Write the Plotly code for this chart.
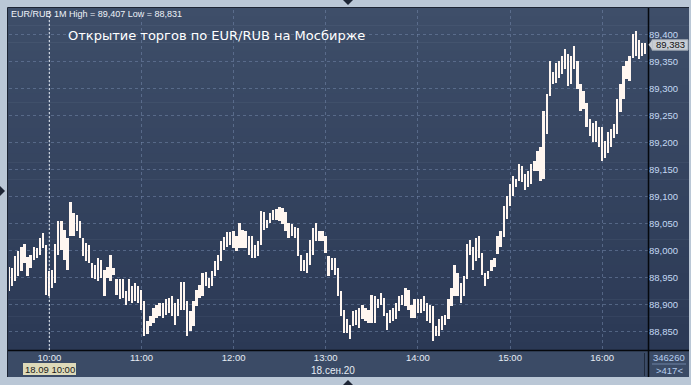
import plotly.graph_objects as go
import pandas as pd

# ---------------- data (2-minute bars, EUR/RUB, 18.09.2020) ----------------
start_time = "2020-09-18 09:34"
bar_minutes = 2

highs = [
    88.969, 88.967, 88.990, 88.998, 89.007, 89.012, 88.987, 88.992, 89.007, 89.004,
    89.023, 89.032, 89.010, 88.961, 88.964, 89.012, 89.054, 89.054, 89.038, 89.023,
    89.090, 89.069, 89.066, 89.054, 89.023, 89.014, 89.010, 88.977, 88.973, 88.986,
    88.983, 88.964, 88.970, 88.992, 88.967, 88.946, 88.946, 88.946, 88.924, 88.946,
    88.933, 88.940, 88.933, 88.927, 88.906, 88.869, 88.878, 88.893, 88.899, 88.902,
    88.902, 88.909, 88.912, 88.915, 88.902, 88.909, 88.941, 88.941, 88.906, 88.887,
    88.906, 88.927, 88.936, 88.958, 88.960, 88.949, 88.962, 88.980, 88.992, 89.017,
    89.024, 89.034, 89.034, 89.035, 89.026, 89.051, 89.038, 89.035, 89.026, 89.026,
    89.010, 89.017, 89.073, 89.072, 89.057, 89.069, 89.075, 89.077, 89.080, 89.078,
    89.072, 89.051, 89.048, 89.044, 89.041, 88.992, 88.983, 88.995, 89.020, 89.041,
    89.051, 89.035, 89.035, 89.026, 88.989, 88.986, 88.986, 88.967, 88.924, 88.890,
    88.872, 88.861, 88.887, 88.890, 88.893, 88.899, 88.893, 88.890, 88.918, 88.915,
    88.909, 88.920, 88.912, 88.884, 88.890, 88.893, 88.902, 88.915, 88.918, 88.930,
    88.927, 88.899, 88.909, 88.909, 88.909, 88.915, 88.902, 88.899, 88.896, 88.859,
    88.872, 88.878, 88.881, 88.909, 88.930, 88.973, 88.958, 88.940, 88.952, 89.011,
    89.020, 89.007, 89.023, 89.026, 88.995, 88.958, 88.961, 88.983, 88.986, 89.027,
    89.036, 89.083, 89.101, 89.123, 89.138, 89.132, 89.161, 89.157, 89.141, 89.148,
    89.160, 89.166, 89.185, 89.191, 89.259, 89.290, 89.351, 89.330, 89.348, 89.351,
    89.360, 89.373, 89.364, 89.360, 89.379, 89.351, 89.308, 89.296, 89.274, 89.243,
    89.237, 89.240, 89.228, 89.228, 89.203, 89.219, 89.225, 89.234, 89.280, 89.308,
    89.342, 89.351, 89.360, 89.401, 89.407, 89.391, 89.385, 89.385,
]
lows = [
    88.925, 88.933, 88.943, 88.952, 88.961, 88.977, 88.952, 88.967, 88.983, 88.986,
    88.992, 89.004, 88.918, 88.915, 88.930, 88.940, 88.992, 89.001, 88.983, 88.964,
    89.026, 89.026, 89.035, 89.023, 88.989, 88.980, 88.977, 88.949, 88.946, 88.943,
    88.949, 88.915, 88.949, 88.943, 88.955, 88.918, 88.909, 88.912, 88.899, 88.906,
    88.902, 88.906, 88.902, 88.890, 88.841, 88.844, 88.859, 88.865, 88.875, 88.878,
    88.875, 88.881, 88.884, 88.878, 88.862, 88.878, 88.890, 88.890, 88.841, 88.850,
    88.859, 88.896, 88.912, 88.915, 88.933, 88.930, 88.933, 88.952, 88.964, 88.980,
    89.001, 89.007, 89.010, 89.004, 88.998, 89.004, 89.004, 89.004, 88.992, 88.986,
    88.985, 88.989, 89.010, 89.038, 89.041, 89.051, 89.057, 89.057, 89.054, 89.048,
    89.035, 89.023, 89.026, 89.023, 88.989, 88.961, 88.961, 88.958, 88.973, 88.992,
    89.017, 89.017, 89.017, 88.995, 88.952, 88.964, 88.955, 88.915, 88.878, 88.847,
    88.847, 88.835, 88.859, 88.862, 88.856, 88.872, 88.869, 88.865, 88.865, 88.865,
    88.893, 88.899, 88.878, 88.853, 88.865, 88.869, 88.872, 88.887, 88.899, 88.896,
    88.890, 88.875, 88.875, 88.884, 88.884, 88.887, 88.869, 88.865, 88.831, 88.841,
    88.841, 88.853, 88.862, 88.872, 88.896, 88.915, 88.915, 88.902, 88.915, 88.946,
    88.992, 88.964, 88.980, 88.986, 88.955, 88.933, 88.946, 88.961, 88.970, 88.993,
    89.006, 89.024, 89.058, 89.083, 89.101, 89.117, 89.129, 89.126, 89.111, 89.117,
    89.123, 89.148, 89.148, 89.129, 89.132, 89.215, 89.286, 89.308, 89.311, 89.320,
    89.327, 89.336, 89.305, 89.308, 89.336, 89.299, 89.259, 89.262, 89.228, 89.212,
    89.200, 89.200, 89.191, 89.165, 89.172, 89.181, 89.191, 89.209, 89.215, 89.256,
    89.280, 89.317, 89.314, 89.357, 89.360, 89.354, 89.360, 89.364,
]

hour_ticks = ["10:00", "11:00", "12:00", "13:00", "14:00", "15:00", "16:00"]
price_ticks = [88.85, 88.90, 88.95, 89.00, 89.05, 89.10, 89.15, 89.20, 89.25, 89.30, 89.35, 89.40]
last_price = 89.383
title_text = "Открытие торгов по EUR/RUB на Мосбирже"
info_text = "EUR/RUB 1M High = 89,407 Low = 88,831"
volume_text = "346260"
count_text = ">417<"
cursor_text = "18.09 10:00"
date_text = "18.сен.20"

# ---------------- derived ----------------
times = pd.date_range(start_time, periods=len(highs), freq=f"{bar_minutes}min")
spans = [h - l for h, l in zip(highs, lows)]
day = "2020-09-18 "
tickvals = [day + t for t in hour_ticks]
ticktext_y = [f"{v:.3f}".replace(".", ",") for v in price_ticks]

W, H = 691, 385
ML, MR, MT, MB = 9, 43, 10, 35
PW, PH = W - ML - MR, H - MT - MB


def px(x):
    return (x - ML) / PW


def py(y):
    return (H - MB - y) / PH


fig = go.Figure()
fig.add_trace(go.Bar(
    x=times, y=spans, base=lows,
    width=70000,
    marker=dict(color="#fff6f0", line=dict(width=0)),
    hoverinfo="skip",
))

shapes = []
# background gradient (plot + right axis area)
top_c = (62, 78, 105)
bot_c = (43, 57, 85)
y0, y1 = 8.0, 350.5
n = 40
for i in range(n):
    a = y0 + (y1 - y0) * i / n
    b = y0 + (y1 - y0) * (i + 1) / n + 0.6
    t = (i + 0.5) / n
    c = tuple(round(top_c[k] + (bot_c[k] - top_c[k]) * t) for k in range(3))
    shapes.append(dict(type="rect", xref="paper", yref="paper",
                       x0=px(8), x1=px(689), y0=py(min(b, y1)), y1=py(a),
                       fillcolor=f"rgb{c}", line=dict(width=0), layer="below"))
# bottom strip
shapes.append(dict(type="rect", xref="paper", yref="paper",
                   x0=px(8), x1=px(689), y0=py(377), y1=py(350.5),
                   fillcolor="rgb(59,75,102)", line=dict(width=0), layer="below"))
# panel outline (top/left dark)
shapes.append(dict(type="line", xref="paper", yref="paper",
                   x0=px(7.5), x1=px(689), y0=py(7.5), y1=py(7.5),
                   line=dict(color="#1c2433", width=1)))
shapes.append(dict(type="line", xref="paper", yref="paper",
                   x0=px(7.5), x1=px(7.5), y0=py(377), y1=py(7.5),
                   line=dict(color="#1c2433", width=1)))
# separators
shapes.append(dict(type="line", xref="paper", yref="paper",
                   x0=px(8), x1=px(689), y0=py(350.5), y1=py(350.5),
                   line=dict(color="#05080d", width=1.5)))
shapes.append(dict(type="line", xref="paper", yref="paper",
                   x0=px(648.5), x1=px(648.5), y0=py(377), y1=py(8),
                   line=dict(color="#05080d", width=1.5)))
shapes.append(dict(type="line", xref="paper", yref="paper",
                   x0=px(644.5), x1=px(644.5), y0=py(376), y1=py(353),
                   line=dict(color="#1f2a3c", width=1)))
shapes.append(dict(type="line", xref="paper", yref="paper",
                   x0=px(652), x1=px(686), y0=py(364), y1=py(364),
                   line=dict(color="#6f84a6", width=1)))
# crosshair at 10:00
shapes.append(dict(type="line", xref="x", yref="paper",
                   x0=day + "10:00", x1=day + "10:00", y0=0, y1=1,
                   line=dict(color="#e8eef6", width=1, dash="2px,2px")))
# cursor time box
shapes.append(dict(type="rect", xref="paper", yref="paper",
                   x0=px(23), x1=px(76), y0=py(375), y1=py(363),
                   fillcolor="#dedab9", line=dict(width=0)))
# last price box + arrow
lp_y = 34.7 + (89.4 - last_price) * 540 + 0.8
shapes.append(dict(type="rect", xref="paper", yref="paper",
                   x0=px(652), x1=px(688), y0=py(lp_y + 5.5), y1=py(lp_y - 5),
                   fillcolor="#c8cdd4", line=dict(color="#9aa3b0", width=1)))
shapes.append(dict(type="path", xref="paper", yref="paper",
                   path=f"M {px(648.5)} {py(lp_y)} "
                        f"L {px(652.5)} {py(lp_y - 5)} "
                        f"L {px(652.5)} {py(lp_y + 5)} Z",
                   fillcolor="#c8cdd4", line=dict(width=0)))
# small navigation triangles
tri_col = "#1e2636"
shapes.append(dict(type="path", xref="paper", yref="paper",
                   path=f"M {px(343)} {py(0)} L {px(353)} {py(0)} L {px(348)} {py(5)} Z",
                   fillcolor=tri_col, line=dict(width=0)))
shapes.append(dict(type="path", xref="paper", yref="paper",
                   path=f"M {px(343)} {py(385)} L {px(353)} {py(385)} L {px(348)} {py(380)} Z",
                   fillcolor=tri_col, line=dict(width=0)))
shapes.append(dict(type="path", xref="paper", yref="paper",
                   path=f"M {px(0)} {py(186)} L {px(0)} {py(196)} L {px(5)} {py(191)} Z",
                   fillcolor=tri_col, line=dict(width=0)))

annotations = [
    dict(text=title_text, xref="paper", yref="paper", x=px(66), y=py(36),
         xanchor="left", yanchor="middle", showarrow=False,
         font=dict(family="DejaVu Sans", size=13, color="#ffffff")),
    dict(text=info_text, xref="paper", yref="paper", x=px(9), y=py(14),
         xanchor="left", yanchor="middle", showarrow=False,
         font=dict(family="Liberation Sans", size=9, color="#eef2f8")),
    dict(text=f"{last_price:.3f}".replace(".", ","), xref="paper", yref="paper",
         x=px(670), y=py(lp_y + 0.3), xanchor="center", yanchor="middle", showarrow=False,
         font=dict(family="Liberation Sans", size=9.5, color="#111111")),
    dict(text=cursor_text, xref="paper", yref="paper", x=px(49.5), y=py(369),
         xanchor="center", yanchor="middle", showarrow=False,
         font=dict(family="Liberation Sans", size=9.5, color="#1a1a1a")),
    dict(text=date_text, xref="paper", yref="paper", x=px(333), y=py(370),
         xanchor="center", yanchor="middle", showarrow=False,
         font=dict(family="Liberation Sans", size=10, color="#e6ecf4")),
    dict(text=volume_text, xref="paper", yref="paper", x=px(669), y=py(357.5),
         xanchor="center", yanchor="middle", showarrow=False,
         font=dict(family="Liberation Sans", size=9.5, color="#b6cdee")),
    dict(text=count_text, xref="paper", yref="paper", x=px(669), y=py(370.5),
         xanchor="center", yanchor="middle", showarrow=False,
         font=dict(family="Liberation Sans", size=9.5, color="#b6cdee")),
]

grid_col = "rgba(115,135,170,0.55)"
fig.update_layout(
    width=W, height=H,
    margin=dict(l=ML, r=MR, t=MT, b=MB, pad=0),
    paper_bgcolor="#bac7d6",
    plot_bgcolor="rgba(0,0,0,0)",
    showlegend=False,
    bargap=0,
    shapes=shapes,
    annotations=annotations,
    xaxis=dict(
        type="date",
        range=["2020-09-18 09:33:45", "2020-09-18 16:29:50"],
        tickvals=tickvals, ticktext=hour_ticks,
        showgrid=True, gridcolor=grid_col, griddash="3px,3px", gridwidth=1,
        ticks="", showline=False, zeroline=False,
        tickfont=dict(family="Liberation Sans", size=9.5, color="#e6ecf4"),
        fixedrange=True,
    ),
    yaxis=dict(
        side="right",
        range=[88.8152, 89.4457],
        tickvals=price_ticks, ticktext=ticktext_y,
        showgrid=True, gridcolor=grid_col, griddash="3px,3px", gridwidth=1,
        ticks="", showline=False, zeroline=False,
        tickfont=dict(family="Liberation Sans", size=9.5, color="#c4d9f4"),
        fixedrange=True,
    ),
)

fig.write_html("out.html", include_plotlyjs=True, config={"displayModeBar": False})
